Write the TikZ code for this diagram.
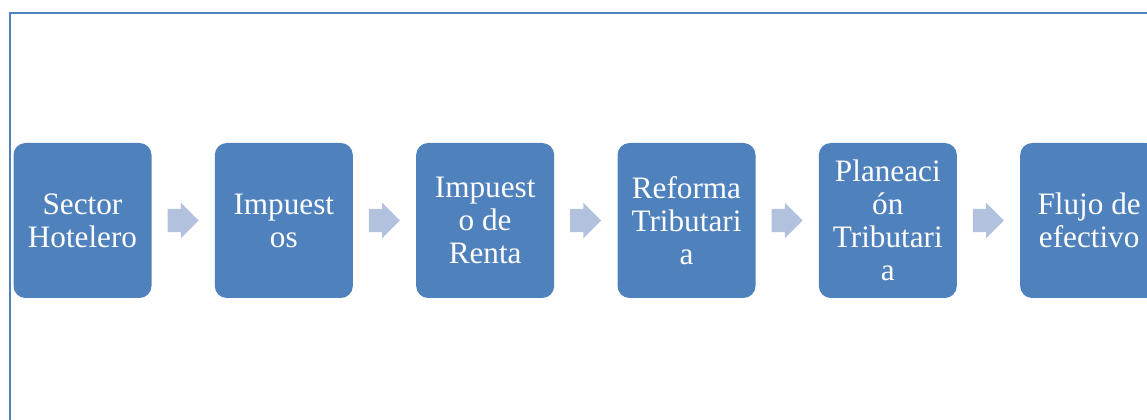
\documentclass[tikz,border=0pt]{standalone}
\usepackage{fontspec}
\setmainfont{Liberation Serif}
\usetikzlibrary{positioning,shapes.arrows}
\definecolor{boxblue}{RGB}{79,129,189}
\definecolor{arrowblue}{RGB}{178,194,222}

\begin{document}
\begin{tikzpicture}[
    x=0.75pt, y=-0.75pt,
    node distance=47.1pt,
    % Style for the blue process boxes
    stage/.style={rectangle, rounded corners=9pt, fill=boxblue, text=white,
        minimum width=103.5pt, minimum height=116.25pt, inner sep=2pt,
        align=center, font=\fontsize{23.4}{24.75}\selectfont},
    % Style for the pale block arrows
    flow arrow/.style={single arrow, fill=arrowblue, inner xsep=0pt,
        inner ysep=8.6pt, minimum height=23.25pt,
        single arrow head extend=4.5pt, xshift=-4.5pt}
]

    % --- 1. Page and Frame ---
    \useasboundingbox (0,0) rectangle (1147,420);
    \clip (0,0) rectangle (1147,420);
    \draw[boxblue, line width=1.5pt] (10,13) rectangle (1180,450);


    % --- 2. Draw the Boxes ---
    \node[stage] (sector) at (82.5,220.5) {Sector\\Hotelero};
    \node[stage, right=of sector] (impuestos) {Impuest\\os};
    \node[stage, right=of impuestos] (renta) {Impuest\\o de\\Renta};
    \node[stage, right=of renta] (reforma) {Reforma\\Tributari\\a};
    \node[stage, right=of reforma] (planeacion) {Planeaci\\ón\\Tributari\\a};
    \node[stage, right=of planeacion] (flujo) {Flujo de\\efectivo};


    % --- 3. Draw the Arrows ---
    \path (sector) -- (impuestos) node[midway, flow arrow] {};
    \path (impuestos) -- (renta) node[midway, flow arrow] {};
    \path (renta) -- (reforma) node[midway, flow arrow] {};
    \path (reforma) -- (planeacion) node[midway, flow arrow] {};
    \path (planeacion) -- (flujo) node[midway, flow arrow] {};

\end{tikzpicture}
\end{document}
